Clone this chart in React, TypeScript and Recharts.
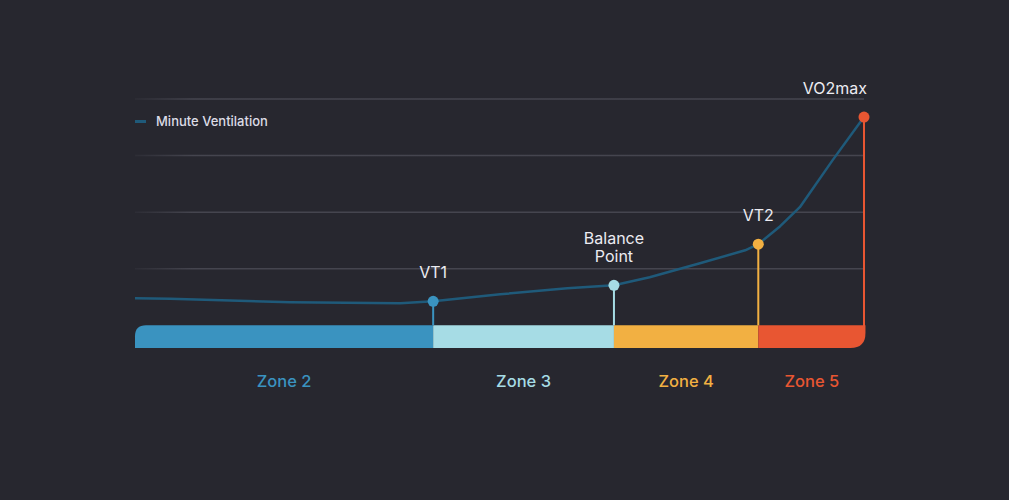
import React from "react";
import {
  ComposedChart,
  Line,
  Scatter,
  XAxis,
  YAxis,
  ReferenceArea,
  ReferenceLine,
} from "recharts";

// effort (% of max) vs minute ventilation (arbitrary units)
const ventX = [0, 4.8, 21.3, 36.4, 40.9, 50.1, 59.3, 65.7, 70.6, 77.5, 83.7, 85.5, 88.5, 91.2, 95.7, 100];
const ventY = [0.478, 0.469, 0.407, 0.389, 0.425, 0.549, 0.655, 0.708, 0.85, 1.097, 1.327, 1.434, 1.752, 2.088, 2.92, 3.68];

const markerNames = ["VT1", "Balance\nPoint", "VT2", "VO2max"];
const markerX = [40.9, 65.7, 85.5, 100];
const markerY = [0.425, 0.708, 1.434, 3.68];
const markerColors = ["#3a93c0", "#a6dce5", "#f2b042", "#e85632"];

const zoneNames = ["Zone 2", "Zone 3", "Zone 4", "Zone 5"];
const zoneStart = [0, 40.9, 65.7, 85.5];
const zoneEnd = [40.9, 65.7, 85.5, 100.2];

const gridValues = [1, 2, 3, 4];

const BG = "#27272f";
const LINE = "#1f5a7a";
const FONT = "Inter, 'Noto Sans', sans-serif";

const ventData = ventX.map((x, i) => ({ x, y: ventY[i] }));
const markerData = markerNames.map((name, i) => ({
  name,
  x: markerX[i],
  y: markerY[i],
  color: markerColors[i],
}));

const zoneShape = (idx: number) => (props: any) => {
  const { x, y, width, height } = props;
  const color = markerColors[idx];
  let d = "";
  if (idx === 0) {
    const r = 11;
    d = `M${x},${y + height} L${x},${y + r} Q${x},${y} ${x + r},${y} L${x + width},${y} L${x + width},${y + height} Z`;
  } else if (idx === 3) {
    const r = 15;
    d = `M${x},${y} L${x + width},${y} L${x + width},${y + height - r} Q${x + width},${y + height} ${x + width - r},${y + height} L${x},${y + height} Z`;
  } else {
    d = `M${x},${y} L${x + width},${y} L${x + width},${y + height} L${x},${y + height} Z`;
  }
  return (
    <g>
      <path d={d} fill={color} />
      <text
        x={x + width / 2}
        y={y + height + 38.5}
        textAnchor="middle"
        fill={color}
        fontSize={16.5}
        fontWeight={500}
        fontFamily={FONT}
      >
        {zoneNames[idx]}
      </text>
    </g>
  );
};

const MarkerShape = (props: any) => {
  const { cx, cy, payload } = props;
  const lines: string[] = payload.name.split("\n");
  const isLast = payload.name === "VO2max";
  const tx = isLast ? cx + 3 : cx;
  return (
    <g>
      <circle cx={cx} cy={cy} r={5.5} fill={payload.color} />
      <text
        x={tx}
        textAnchor={isLast ? "end" : "middle"}
        fill="#ececf2"
        fontSize={16}
        fontFamily={FONT}
      >
        {lines.map((l, i) => (
          <tspan key={i} x={tx} y={cy - 23 - (lines.length - 1 - i) * 18}>
            {l}
          </tspan>
        ))}
      </text>
    </g>
  );
};

export default function App() {
  return (
    <div
      style={{
        position: "absolute",
        left: 0,
        top: 0,
        width: 1009,
        height: 500,
        background: BG,
        overflow: "hidden",
      }}
    >
      <div
        style={{
          position: "absolute",
          left: 135,
          top: 113,
          display: "flex",
          alignItems: "center",
          fontFamily: FONT,
          fontSize: 13,
          color: "#dcdce6",
          fontWeight: 500,
          zIndex: 2,
        }}
      >
        <span style={{ display: "inline-block", width: 11, height: 3, background: LINE, marginRight: 10 }} />
        Minute Ventilation
      </div>
      <ComposedChart
        width={1009}
        height={500}
        margin={{ top: 99, right: 145, bottom: 152, left: 135 }}
      >
        <defs>
          <linearGradient id="gridFade" gradientUnits="userSpaceOnUse" x1={135} y1={0} x2={864} y2={0}>
            <stop offset="0" stopColor="#45454f" stopOpacity={0.2} />
            <stop offset="0.08" stopColor="#45454f" stopOpacity={1} />
            <stop offset="1" stopColor="#45454f" stopOpacity={1} />
          </linearGradient>
        </defs>
        <XAxis type="number" dataKey="x" domain={[0, 100]} hide />
        <YAxis type="number" dataKey="y" domain={[-0.4, 4]} hide />
        {gridValues.map((v) => (
          <ReferenceLine key={v} y={v} stroke="url(#gridFade)" strokeWidth={1.5} />
        ))}
        {zoneNames.map((z, i) => (
          <ReferenceArea
            key={z}
            x1={zoneStart[i]}
            x2={zoneEnd[i]}
            y1={-0.4}
            y2={0}
            ifOverflow="visible"
            shape={zoneShape(i)}
          />
        ))}
        {markerData.map((m) => (
          <ReferenceLine
            key={m.name}
            segment={[
              { x: m.x, y: m.name === "VO2max" ? -0.1 : 0 },
              { x: m.x, y: m.y },
            ]}
            stroke={m.color}
            strokeWidth={2}
            ifOverflow="visible"
          />
        ))}
        <Line
          data={ventData}
          dataKey="y"
          type="linear"
          stroke={LINE}
          strokeWidth={2.5}
          strokeLinejoin="round"
          dot={false}
          activeDot={false}
          isAnimationActive={false}
        />
        <Scatter
          data={markerData}
          dataKey="y"
          shape={MarkerShape}
          isAnimationActive={false}
        />
      </ComposedChart>
    </div>
  );
}
